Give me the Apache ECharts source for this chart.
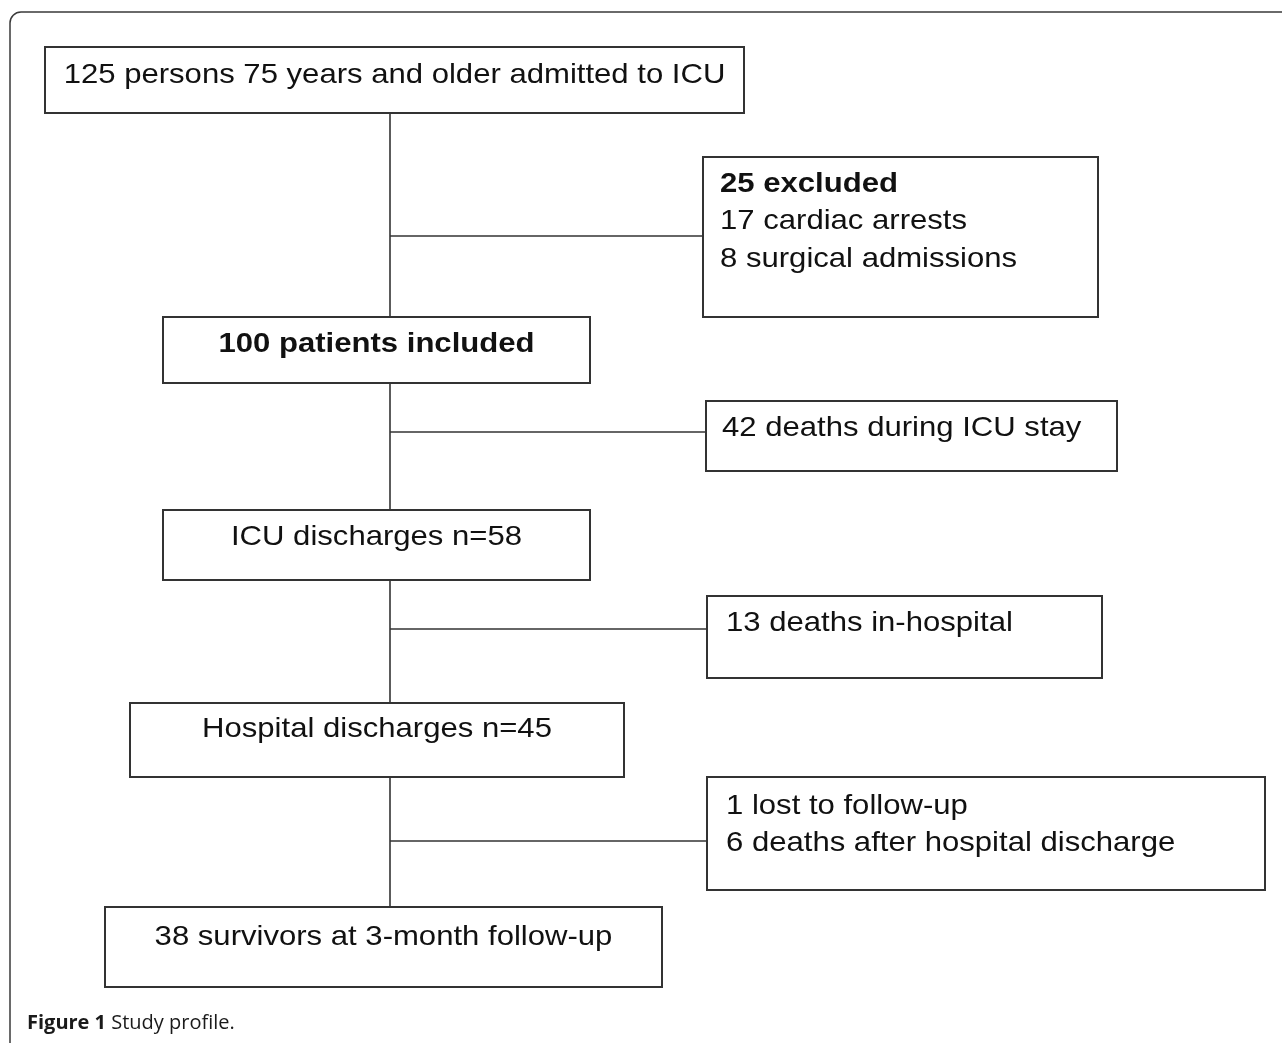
<!DOCTYPE html>
<html>
<head>
<meta charset="utf-8">
<script src="https://cdn.jsdelivr.net/npm/echarts@6/dist/echarts.min.js"></script>
<style>
  html, body { margin: 0; padding: 0; background: #fff; }
  #flow { width: 1282px; height: 1043px; }
</style>
</head>
<body>
<div id="flow"></div>
<script>
// step texts of the study profile
var mainSteps = [
  '125 persons 75 years and older admitted to ICU',
  '100 patients included',
  'ICU discharges n=58',
  'Hospital discharges n=45',
  '38 survivors at 3-month follow-up'
];
var mainBold = [false, true, false, false, false];
var sideNotes = [
  ['25 excluded', '17 cardiac arrests', '8 surgical admissions'],
  ['42 deaths during ICU stay'],
  ['13 deaths in-hospital'],
  ['1 lost to follow-up', '6 deaths after hospital discharge']
];
var sideBoldFirst = [true, false, false, false];

// layout (axis units = pixels of the figure)
var mainBoxes = [[45, 47, 744, 113], [163, 317, 590, 383], [163, 510, 590, 580], [130, 703, 624, 777], [105, 907, 662, 987]];
var mainTextY = [75, 344, 537, 729, 937];
var sideBoxes = [[703, 157, 1098, 317], [706, 401, 1117, 471], [707, 596, 1102, 678], [707, 777, 1265, 890]];
var sideTextX = [720, 722, 726, 726];
var sideTextY = [184, 428, 623, 806];
var lineGap = 37.5;
var spineX = 390;
var branchY = [236, 432, 629, 841];

var FONT = '"Liberation Sans", Arial, sans-serif';
var STRETCH = 1.11; // the scanned Arial is a little wider than Liberation Sans
var INK = '#111';
var EDGE = '#333';

var myChart = echarts.init(document.getElementById('flow'));

function boxGroup(api, b, texts) {
  var p0 = api.coord([b[0], b[1]]);
  var p1 = api.coord([b[2], b[3]]);
  var children = [{
    type: 'rect',
    shape: { x: p0[0], y: p0[1], width: p1[0] - p0[0], height: p1[1] - p0[1] },
    style: { fill: '#fff', stroke: EDGE, lineWidth: 2 }
  }];
  return { type: 'group', children: children.concat(texts) };
}

var option = {
  animation: false,
  grid: { left: 0, right: 0, top: 0, bottom: 0 },
  xAxis: { type: 'value', min: 0, max: 1282, show: false },
  yAxis: { type: 'value', min: 0, max: 1043, inverse: true, show: false },
  graphic: [
    {
      type: 'rect',
      shape: { x: 10, y: 12, width: 1320, height: 1100, r: 11 },
      style: { fill: 'none', stroke: '#3a3a3a', lineWidth: 1.5 },
      z: -1
    },
    {
      type: 'text',
      left: 27,
      top: 1013,
      style: {
        text: '{b|Figure 1} {n|Study profile.}',
        rich: {
          b: { fontFamily: '"Open Sans", sans-serif', fontSize: 20, fontWeight: 'bold', fill: '#1a1a1a' },
          n: { fontFamily: '"Open Sans", sans-serif', fontSize: 20, fill: '#1a1a1a' }
        },
        fontFamily: '"Open Sans", sans-serif',
        fontSize: 20
      }
    }
  ],
  series: [
    {
      // connectors: spine between main boxes and branches to the side boxes
      type: 'custom',
      coordinateSystem: 'cartesian2d',
      data: branchY.map(function (y, i) { return [i]; }),
      renderItem: function (params, api) {
        var i = params.dataIndex;
        var top = api.coord([spineX, mainBoxes[i][3]]);
        var bot = api.coord([spineX, mainBoxes[i + 1][1]]);
        var a = api.coord([spineX, branchY[i]]);
        var c = api.coord([sideBoxes[i][0], branchY[i]]);
        return {
          type: 'group',
          children: [
            { type: 'line', shape: { x1: top[0], y1: top[1], x2: bot[0], y2: bot[1] }, style: { stroke: EDGE, lineWidth: 1.6 } },
            { type: 'line', shape: { x1: a[0], y1: a[1], x2: c[0], y2: c[1] }, style: { stroke: EDGE, lineWidth: 1.6 } }
          ]
        };
      },
      z: 1
    },
    {
      // main column boxes
      type: 'custom',
      coordinateSystem: 'cartesian2d',
      data: mainSteps.map(function (s, i) { return [i]; }),
      renderItem: function (params, api) {
        var i = params.dataIndex;
        var b = mainBoxes[i];
        var t = api.coord([(b[0] + b[2]) / 2, mainTextY[i]]);
        return boxGroup(api, b, [{
          type: 'text',
          x: t[0], y: t[1],
          scaleX: STRETCH,
          style: {
            text: mainSteps[i], fill: INK, fontFamily: FONT, fontSize: 28,
            fontWeight: mainBold[i] ? 'bold' : 'normal',
            align: 'center', verticalAlign: 'middle'
          }
        }]);
      },
      z: 2
    },
    {
      // side boxes with exclusions and deaths
      type: 'custom',
      coordinateSystem: 'cartesian2d',
      data: sideNotes.map(function (s, i) { return [i]; }),
      renderItem: function (params, api) {
        var i = params.dataIndex;
        var texts = sideNotes[i].map(function (line, k) {
          var t = api.coord([sideTextX[i], sideTextY[i] + k * lineGap]);
          return {
            type: 'text',
            x: t[0], y: t[1],
            scaleX: STRETCH,
            style: {
              text: line, fill: INK, fontFamily: FONT, fontSize: 28,
              fontWeight: (k === 0 && sideBoldFirst[i]) ? 'bold' : 'normal',
              align: 'left', verticalAlign: 'middle'
            }
          };
        });
        return boxGroup(api, sideBoxes[i], texts);
      },
      z: 2
    }
  ]
};

myChart.setOption(option);
</script>
</body>
</html>
